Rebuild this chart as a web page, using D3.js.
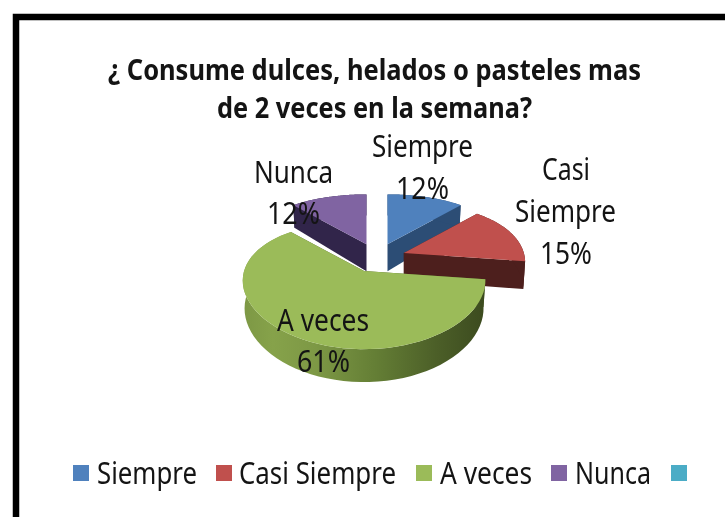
<!DOCTYPE html>
<html><head><meta charset="utf-8">
<script src="https://cdn.jsdelivr.net/npm/d3@7/dist/d3.min.js"></script>
<style>html,body{margin:0;padding:0;background:#fff}svg{display:block;filter:blur(.45px)}text{font-family:"Noto Sans","Open Sans",sans-serif;fill:#141414}</style>
</head><body><svg id="c" width="725" height="517"></svg>
<script>
const categories=["Siempre","Casi Siempre","A veces","Nunca",""];
const values=[12,15,61,12,0];
const labels=["12%","15%","61%","12%"];
const colors=["#4f81bd","#c0504d","#9bbb59","#8064a2","#4bacc6"];
const sideColors=["#2c4d75","#4d1f1d","#4f6228","#31254a"];
const titleLines=["¿ Consume dulces, helados o pasteles mas","de 2 veces en la semana?"];

const svg=d3.select("#c");
// frame
svg.append("rect").attr("x",16).attr("y",17).attr("width",760).attr("height",560)
  .attr("fill","#fff").attr("stroke","#000").attr("stroke-width",6.5);

function fitText(t,x0,x1,base,size,weight){
  return svg.append("text").attr("x",x0).attr("y",base).attr("font-size",size)
   .attr("font-weight",weight||400).attr("textLength",x1-x0).attr("lengthAdjust","spacingAndGlyphs").text(t);
}
fitText(titleLines[0],108,641,80,28,700);
fitText(titleLines[1],217,532,118,28,700);

// 3D pie geometry
const cx=377,cy=258,rx=120,ry=64,persp=.22,perspX=.15,depth=27,explodeX=.23*124,explodeY=.23*64;
const pie=d3.pie().sort(null).value(d=>d);
const arcs=pie(values.slice(0,4));
const project=a=>{const x=Math.sin(a),y=-Math.cos(a),p=1+persp*y;return [x*(1+perspX*y)*rx,y*p*ry,p];};
const line=d3.line();
const defs=svg.append("defs");
const rimStops=[[0,"#7d9845"],[.12,"#86a24a"],[.3,"#7d9845"],[.55,"#647e35"],[.8,"#4c5f28"],[1,"#3c4b1f"]];
const grad=defs.append("linearGradient").attr("id","rim").attr("gradientUnits","userSpaceOnUse")
  .attr("x1",cx-rx-13).attr("x2",cx+rx-13).attr("y1",0).attr("y2",0);
rimStops.forEach(s=>grad.append("stop").attr("offset",s[0]).attr("stop-color",s[1]));

// paint back to front; the largest slice last
[3,0,1,2].forEach(i=>{
  const d=arcs[i],m=(d.startAngle+d.endAngle)/2;
  const ox=cx+explodeX*Math.sin(m),oy=cy-explodeY*Math.cos(m);
  const T=a=>{const q=project(a);return [ox+q[0],oy+q[1]];};
  const B=a=>{const q=project(a);return [ox+q[0]*.985,oy+q[1]+depth*q[2]];};
  const A=[ox,oy],A2=[ox,oy+depth];
  const n=d3.range(0,61).map(k=>d.startAngle+(d.endAngle-d.startAngle)*k/60);
  const g=svg.append("g");
  const fillSide=sideColors[i];
  g.append("path").attr("d",line([A,T(d.startAngle),B(d.startAngle),A2])+"Z").attr("fill",fillSide);
  g.append("path").attr("d",line([A,T(d.endAngle),B(d.endAngle),A2])+"Z").attr("fill",fillSide);
  g.append("path").attr("d",line(n.map(T).concat(n.slice().reverse().map(B)))+"Z")
    .attr("fill",i===2?"url(#rim)":fillSide);
  g.append("path").attr("d",line([A].concat(n.map(T)))+"Z").attr("fill",colors[i]);
});

// data labels
const size=30;
const place=[[[categories[0],372,473,157],[labels[0],396,449,199]],
 [["Casi",542,590,180],["Siempre",515,616,222],[labels[1],540,592,264]],
 [[categories[2],277,369,331],[labels[2],297,350,372]],
 [[categories[3],254,333,183],[labels[3],267,320,224]]];
place.forEach(p=>p.forEach(q=>fitText(q[0],q[1],q[2],q[3],size)));

// legend
const legX=[73,216,416,551,671],legT=[[97,197],[239,396],[440,532],[575,651]];
categories.forEach((c,i)=>{
  svg.append("rect").attr("x",legX[i]).attr("y",465).attr("width",16).attr("height",16).attr("fill",colors[i]);
  if(c) fitText(c,legT[i][0],legT[i][1],484,size);
});
</script></body></html>
